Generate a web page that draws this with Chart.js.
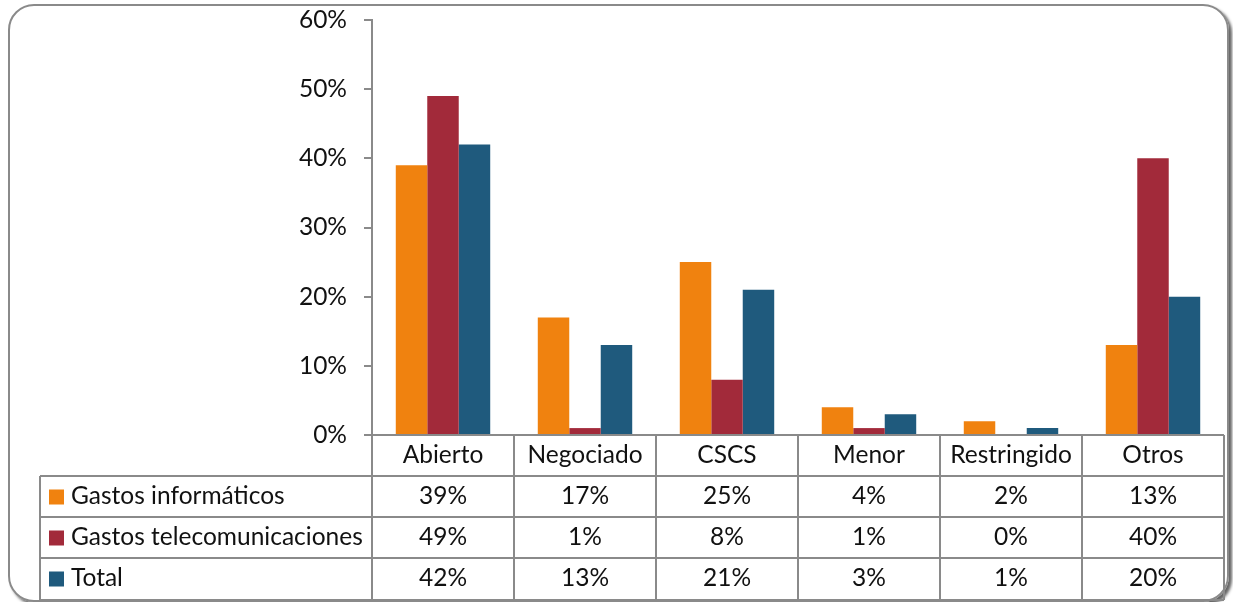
<!DOCTYPE html>
<html>
<head>
<meta charset="utf-8">
<script src="https://cdn.jsdelivr.net/npm/chart.js@4/dist/chart.umd.min.js"></script>
<style>
  html, body { margin: 0; padding: 0; background: #fff; }
  #frame {
    position: absolute; left: 8px; top: 4px; width: 1217px; height: 594px;
    border: 2px solid #8a8a8a; border-radius: 26px;
    box-shadow: 3px 3px 3px #666;
  }
  #wrap { position: absolute; left: 0; top: 0; width: 1233px; height: 602px; }
</style>
</head>
<body>
<div id="frame"></div>
<div id="wrap"><canvas id="chart" width="1233" height="602"></canvas></div>
<script>
const categories = ['Abierto', 'Negociado', 'CSCS', 'Menor', 'Restringido', 'Otros'];
const seriesNames = ['Gastos informáticos', 'Gastos telecomunicaciones', 'Total'];
const informaticos = [39, 17, 25, 4, 2, 13];
const telecomunicaciones = [49, 1, 8, 1, 0, 40];
const total = [42, 13, 21, 3, 1, 20];
const colors = ['#f0820f', '#a22a3a', '#1f5a7d'];

const FONT = 'Lato, "Open Sans", sans-serif';
const FONT_SIZE = 24.5;
const lineColor = '#8a8a8a';

// draws the data table below the plot area (Excel style)
const dataTable = {
    id: 'dataTable',
    afterDraw(chart) {
        const ctx = chart.ctx;
        const area = chart.chartArea;
        const x = chart.scales.x;
        const tableLeft = 40;
        const rowH = 41;
        const top = area.bottom;
        const rows = [top, top + rowH, top + rowH * 2, top + rowH * 3, 600];
        const colW = (area.right - area.left) / categories.length;

        ctx.save();
        ctx.strokeStyle = lineColor;
        ctx.lineWidth = 2;
        ctx.beginPath();
        // horizontal lines
        ctx.moveTo(area.left, rows[0]); ctx.lineTo(area.right, rows[0]);
        for (let i = 1; i < rows.length; i++) {
            ctx.moveTo(tableLeft, rows[i]); ctx.lineTo(area.right, rows[i]);
        }
        // vertical lines
        for (let c = 0; c <= categories.length; c++) {
            const px = area.left + c * colW;
            ctx.moveTo(px, rows[0]); ctx.lineTo(px, rows[4]);
        }
        ctx.moveTo(tableLeft, rows[1]); ctx.lineTo(tableLeft, rows[4]);
        ctx.stroke();

        ctx.fillStyle = '#111';
        ctx.font = FONT_SIZE + 'px ' + FONT;
        ctx.textBaseline = 'middle';
        ctx.textAlign = 'center';
        categories.forEach((cat, i) => {
            ctx.fillText(cat, x.getPixelForValue(i), rows[0] + rowH / 2);
        });

        chart.data.datasets.forEach((ds, r) => {
            const cy = rows[r + 1] + rowH / 2;
            ctx.fillStyle = ds.backgroundColor;
            ctx.fillRect(49, cy - 7, 15, 15);
            ctx.fillStyle = '#111';
            ctx.textAlign = 'left';
            ctx.fillText(ds.label, 71, cy);
            ctx.textAlign = 'center';
            ds.data.forEach((v, i) => {
                ctx.fillText(v + '%', x.getPixelForValue(i), cy);
            });
        });
        ctx.restore();
    }
};

new Chart(document.getElementById('chart'), {
    type: 'bar',
    data: {
        labels: categories,
        datasets: [
            { label: seriesNames[0], data: informaticos, backgroundColor: colors[0] },
            { label: seriesNames[1], data: telecomunicaciones, backgroundColor: colors[1] },
            { label: seriesNames[2], data: total, backgroundColor: colors[2] }
        ]
    },
    options: {
        responsive: false,
        animation: false,
        layout: { padding: { left: 0, right: 9, top: 20, bottom: 167 } },
        datasets: { bar: { categoryPercentage: 0.665, barPercentage: 1 } },
        plugins: { legend: { display: false }, tooltip: { enabled: false } },
        scales: {
            x: { display: false },
            y: {
                min: 0, max: 60,
                afterFit(scale) {
                    scale.width = 372;
                    scale.paddingTop = 0;
                    scale.paddingBottom = 0;
                },
                border: { display: true, color: lineColor, width: 2 },
                grid: { drawOnChartArea: false, drawTicks: true, tickLength: 8, color: lineColor, lineWidth: 2 },
                ticks: {
                    stepSize: 10, padding: 17, color: '#111',
                    font: { family: FONT, size: FONT_SIZE },
                    callback: v => v + '%'
                }
            }
        }
    },
    plugins: [dataTable]
});
</script>
</body>
</html>
